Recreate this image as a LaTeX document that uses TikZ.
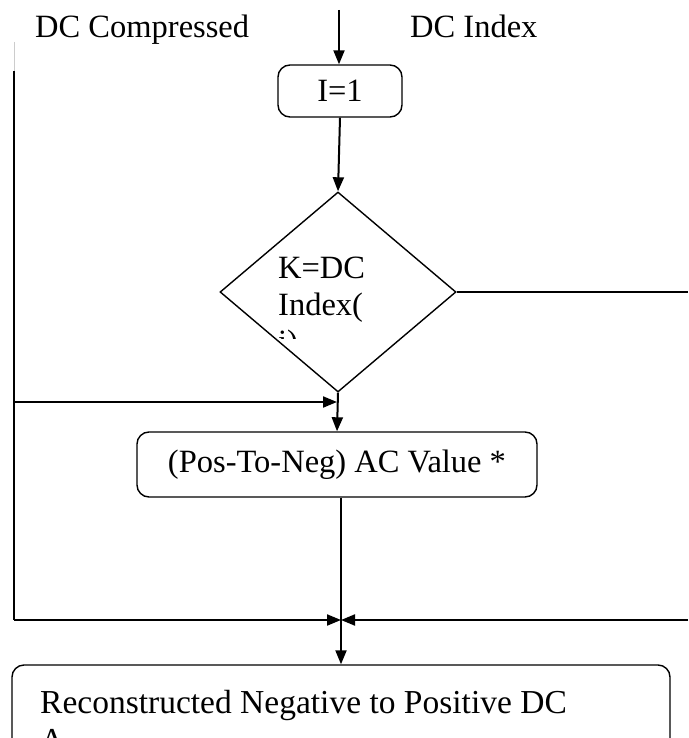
\documentclass[tikz,border=0pt]{standalone}
\usepackage{fontspec}
\setmainfont{Liberation Serif}
\usetikzlibrary{shapes.geometric,arrows.meta}
\begin{document}
\begin{tikzpicture}[x=1pt,y=-1pt,
  flow/.style={line width=2pt,-{Triangle[length=14pt,width=11pt]}},
  wire/.style={line width=2pt},
  procbox/.style={draw,line width=1.4pt,rounded corners=12pt,inner sep=0pt},
  lbl/.style={font=\fontsize{32.5}{37}\selectfont,inner sep=0pt}]
\useasboundingbox (0,0) rectangle (688,738);

% input labels
\node[lbl,anchor=base west] (dcc) at (35,38) {DC Compressed};
\node[lbl,anchor=base west] (dci) at (410,38) {DC Index};

% boxes
\node[procbox,lbl,minimum width=124pt,minimum height=52pt] (init) at (340,91) {I=1};
\node[draw,diamond,line width=1.4pt,minimum width=236pt,minimum height=200pt,inner sep=0pt] (test) at (338,292) {};
\begin{scope}
  \clip (250,240) rectangle (420,338);
  \node[lbl,anchor=north west,align=left] (testtxt) at (278,257) {K=DC\\Index(\\i)};
\end{scope}
\node[procbox,lbl,minimum width=400pt,minimum height=65pt] (calc) at (337,464.5) {(Pos-To-Neg) AC Value *};
\node[procbox,minimum width=658pt,minimum height=110pt] (out) at (341,720) {};
\node[lbl,anchor=north west,align=left,font=\fontsize{33.5}{38}\selectfont] (outtxt) at (40,690) {Reconstructed Negative to Positive DC\\A};

% junction points
\coordinate (src) at (339,10);
\coordinate (lfade) at (14,42);
\coordinate (ltop) at (14,71);
\coordinate (lmid) at (14,402);
\coordinate (lbot) at (14,620);
\coordinate (rmid) at (688,292);
\coordinate (rbot) at (688,620);
\coordinate (j1) at (337,402);
\coordinate (j2) at (341,620);

% connectors
\draw[flow] (src) -- (init.north -| src);
\draw[flow] (init.south) -- (test.north);
\draw[wire] (test.east) -- (rmid);
\draw[gray!40,line width=1pt] (lfade) -- (ltop);
\draw[wire] (ltop) -- (lbot);
\draw[flow] (lmid) -- (j1);
\draw[flow] (test.south) -- (calc.north);
\draw[wire] (calc.south -| j2) -- (j2);
\draw[flow] (lbot) -- (j2);
\draw[flow] (rbot) -- (j2);
\draw[flow] (j2) -- (out.north -| j2);
\end{tikzpicture}
\end{document}
